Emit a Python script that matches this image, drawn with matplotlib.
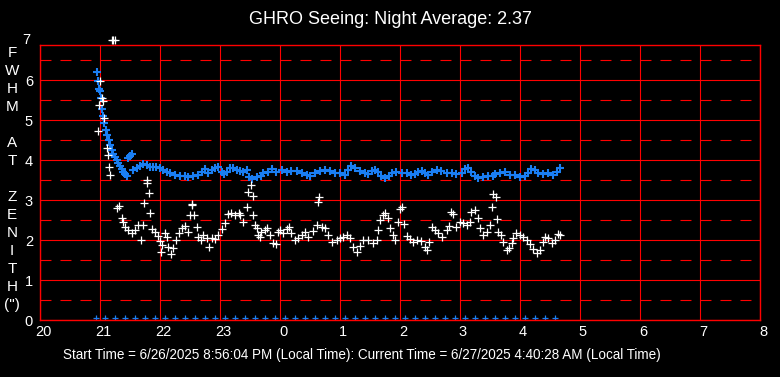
import numpy as np
import matplotlib
matplotlib.use('Agg')
import matplotlib.pyplot as plt
from matplotlib.transforms import ScaledTranslation

plt.rcParams['font.family'] = ['Liberation Sans', 'DejaVu Sans']
plt.rcParams['lines.scale_dashes'] = False

# seeing (white) - time in hours since midnight of start day, value in arcsec
seeing_t = [20.96, 20.99, 21.00, 21.04, 21.055, 21.07, 21.11, 21.13, 21.155, 21.17,
            21.20, 21.22, 21.25, 21.29, 21.32, 21.36, 21.38, 21.42, 21.47, 21.53,
            21.58, 21.64, 21.68, 21.72, 21.74, 21.78, 21.79, 21.82, 21.84, 21.86,
            21.92, 21.97, 22.00, 22.02, 22.03, 22.08, 22.12, 22.14, 22.18, 22.22,
            22.27, 22.31, 22.36, 22.42, 22.46, 22.50, 22.53, 22.54, 22.57, 22.61,
            22.64, 22.68, 22.72, 22.78, 22.82, 22.86, 22.92, 22.97, 23.03, 23.08,
            23.14, 23.19, 23.25, 23.31, 23.33, 23.39, 23.445, 23.47, 23.52, 23.545,
            23.555, 23.58, 23.61, 23.64, 23.67, 23.69, 23.75, 23.78, 23.83, 23.89,
            23.94, 23.97, 24.00, 24.055, 24.11, 24.155, 24.19, 24.25, 24.305, 24.36,
            24.42, 24.47, 24.545, 24.61, 24.64, 24.655, 24.695, 24.75, 24.805, 24.86,
            24.945, 25.00, 25.055, 25.11, 25.17, 25.22, 25.28, 25.33, 25.39, 25.47,
            25.555, 25.61, 25.64, 25.67, 25.71, 25.75, 25.795, 25.83, 25.88, 25.92,
            25.97, 26.00, 26.03, 26.07, 26.11, 26.17, 26.22, 26.28, 26.345, 26.42,
            26.445, 26.49, 26.53, 26.58, 26.64, 26.705, 26.78, 26.82, 26.85, 26.89,
            26.93, 27.00, 27.055, 27.11, 27.17, 27.19, 27.25, 27.295, 27.33, 27.39,
            27.445, 27.50, 27.53, 27.545, 27.60, 27.62, 27.64, 27.68, 27.72, 27.78,
            27.82, 27.86, 27.89, 27.94, 28.00, 28.055, 28.11, 28.17, 28.22, 28.29,
            28.33, 28.38, 28.42, 28.47, 28.53, 28.58, 28.64, 28.67]
seeing_v = [4.73, 5.37, 5.97, 5.54, 5.47, 5.04, 4.29, 4.13, 3.82, 3.62,
            7.0, 7.0, 7.0, 2.79, 2.86, 2.56, 2.46, 2.32, 2.25, 2.18,
            2.25, 2.38, 2.00, 2.38, 2.92, 3.50, 3.42, 3.17, 2.67, 2.27,
            2.21, 2.10, 1.98, 1.71, 1.88, 2.17, 2.08, 1.83, 1.65, 1.79,
            2.00, 2.18, 2.29, 2.35, 2.21, 2.63, 2.88, 2.90, 2.63, 2.33,
            2.08, 2.00, 2.13, 2.04, 1.83, 2.04, 2.02, 2.13, 2.27, 2.42,
            2.65, 2.68, 2.63, 2.68, 2.63, 2.46, 2.83, 3.21, 3.38, 3.10,
            2.63, 2.38, 2.29, 2.13, 2.08, 2.21, 2.25, 2.29, 2.13, 1.92,
            1.90, 2.21, 2.25, 2.18, 2.27, 2.32, 2.17, 2.00, 2.04, 2.13,
            2.21, 2.08, 2.23, 2.38, 2.96, 3.07, 2.32, 2.29, 2.13, 1.96,
            2.00, 2.04, 2.08, 2.13, 2.04, 1.83, 1.71, 1.85, 2.00, 2.00,
            1.93, 2.00, 2.25, 2.50, 2.63, 2.67, 2.54, 2.29, 2.13, 2.00,
            2.46, 2.77, 2.83, 2.40, 2.10, 2.02, 1.96, 2.00, 1.98, 1.83,
            1.75, 1.96, 2.33, 2.25, 2.17, 2.08, 2.25, 2.35, 2.71, 2.65,
            2.32, 2.46, 2.42, 2.38, 2.46, 2.71, 2.75, 2.54, 2.29, 2.13,
            2.21, 2.38, 2.83, 3.15, 3.07, 2.52, 2.21, 2.13, 1.96, 1.75,
            1.79, 1.92, 2.04, 2.17, 2.13, 2.08, 2.00, 1.90, 1.77, 1.67,
            1.75, 1.96, 2.08, 2.04, 1.92, 2.00, 2.15, 2.13]

# fwhm (blue)
fwhm_t = [20.955, 20.97, 20.99, 21.005, 21.02, 21.04, 21.055, 21.07, 21.10, 21.12,
          21.145, 21.17, 21.195, 21.22, 21.25, 21.28, 21.305, 21.33, 21.36, 21.39,
          21.42, 21.445, 21.47, 21.50, 21.54, 21.555, 21.61, 21.67, 21.72, 21.78,
          21.83, 21.89, 21.94, 22.00, 22.055, 22.11, 22.17, 22.25, 22.33, 22.42,
          22.47, 22.555, 22.64, 22.695, 22.75, 22.80, 22.86, 22.92, 22.97, 23.03,
          23.07, 23.11, 23.17, 23.22, 23.28, 23.33, 23.39, 23.445, 23.49, 23.53,
          23.61, 23.69, 23.72, 23.80, 23.86, 23.94, 24.03, 24.11, 24.19, 24.28,
          24.36, 24.445, 24.50, 24.58, 24.67, 24.75, 24.83, 24.92, 25.00, 25.08,
          25.14, 25.19, 25.25, 25.33, 25.42, 25.47, 25.53, 25.58, 25.64, 25.69,
          25.75, 25.81, 25.86, 25.94, 26.03, 26.11, 26.19, 26.25, 26.30, 26.36,
          26.42, 26.47, 26.53, 26.61, 26.69, 26.78, 26.86, 26.94, 27.03, 27.08,
          27.14, 27.19, 27.25, 27.30, 27.39, 27.47, 27.55, 27.58, 27.67, 27.75,
          27.83, 27.92, 28.00, 28.08, 28.14, 28.19, 28.25, 28.30, 28.39, 28.47,
          28.55, 28.61, 28.67]
fwhm_v = [6.19, 5.97, 5.77, 5.72, 5.54, 5.27, 5.10, 4.92, 4.75, 4.62,
          4.50, 4.38, 4.25, 4.15, 4.08, 4.00, 3.93, 3.85, 3.77, 3.71,
          3.65, 3.61, 4.04, 4.10, 4.15, 3.75, 3.79, 3.85, 3.89, 3.88,
          3.83, 3.82, 3.82, 3.79, 3.75, 3.71, 3.68, 3.63, 3.60, 3.60,
          3.57, 3.60, 3.63, 3.71, 3.77, 3.68, 3.75, 3.81, 3.82, 3.71,
          3.65, 3.71, 3.81, 3.79, 3.75, 3.73, 3.71, 3.75, 3.58, 3.52,
          3.58, 3.60, 3.67, 3.71, 3.77, 3.71, 3.75, 3.69, 3.72, 3.73,
          3.67, 3.63, 3.60, 3.67, 3.72, 3.75, 3.73, 3.68, 3.67, 3.63,
          3.75, 3.85, 3.79, 3.73, 3.67, 3.65, 3.73, 3.76, 3.71, 3.60,
          3.54, 3.60, 3.67, 3.71, 3.68, 3.68, 3.63, 3.65, 3.71, 3.73,
          3.68, 3.63, 3.71, 3.75, 3.72, 3.68, 3.67, 3.65, 3.67, 3.77,
          3.81, 3.71, 3.60, 3.54, 3.57, 3.60, 3.60, 3.65, 3.67, 3.71,
          3.63, 3.63, 3.58, 3.60, 3.68, 3.77, 3.75, 3.67, 3.65, 3.67,
          3.63, 3.71, 3.79]

# sample markers along the bottom (local clock time)
sample_times = ['20:56', '21:05', '21:15', '21:25', '21:35', '21:45', '21:55',
                '22:05', '22:15', '22:25', '22:35', '22:45', '22:55',
                '23:05', '23:15', '23:25', '23:35', '23:45', '23:55',
                '0:05', '0:15', '0:25', '0:35', '0:45', '0:55',
                '1:05', '1:15', '1:25', '1:35', '1:45', '1:55',
                '2:05', '2:15', '2:25', '2:35', '2:45', '2:55',
                '3:05', '3:15', '3:25', '3:35', '3:45', '3:55',
                '4:05', '4:15', '4:25', '4:35']
sample_level = 0.06

hour_labels = ['20', '21', '22', '23', '0', '1', '2', '3', '4', '5', '6', '7', '8']


def to_hours(s):
    h, m = s.split(':')
    h = int(h) + int(m) / 60
    if h < 12:
        h += 24
    return h


sample_t = [to_hours(s) for s in sample_times]

W, H = 780, 377
fig = plt.figure(figsize=(W / 100, H / 100), dpi=100, facecolor='black')
ax = fig.add_axes([40 / W, 1 - 320 / H, 720 / W, 275 / H], facecolor='black')

red = '#ff0000'
blue = '#1a7ef2'

ax.set_xlim(20, 32)
ax.set_ylim(0, 6.875)
ax.set_xticks(np.arange(20, 33))
ax.set_xticklabels(hour_labels)
ax.set_yticks(np.arange(0, 7))
ax.set_yticks(np.arange(0.5, 7, 1), minor=True)
ax.tick_params(which='both', length=0, colors='white', labelsize=10.5)
ax.tick_params(axis='x', pad=3.5)
ax.tick_params(axis='y', pad=5)

# hour labels sit a little right of their gridline
shift = ScaledTranslation(3 / 100, 0, fig.dpi_scale_trans)
for lbl in ax.get_xticklabels():
    lbl.set_transform(lbl.get_transform() + shift)

ax.grid(which='major', color=red, lw=0.8, ls='-')
ax.grid(which='minor', axis='y', color=red, lw=0.8, ls=(0, (7.9, 6.5)))
ax.set_axisbelow(True)
for sp in ax.spines.values():
    sp.set_color(red)
    sp.set_linewidth(1.0)

ax.plot(fwhm_t, fwhm_v, ls='none', marker='+', ms=6, mew=1.5, color=blue, clip_on=False)
ax.plot(seeing_t, seeing_v, ls='none', marker='+', ms=6, mew=0.9, color='white', clip_on=False)
ax.plot(sample_t, [sample_level] * len(sample_t), ls='none', marker='+', ms=5, mew=0.9,
        color=blue)

# top label "7" sits above the frame
ax.text(-0.014, 7, '7', transform=ax.get_yaxis_transform(), ha='right', va='center',
        color='white', fontsize=10.5, clip_on=False)

fig.text(390 / W, 1 - 20 / H, 'GHRO Seeing: Night Average: 2.37', ha='center', va='center',
         color='white', fontsize=13)

letters = ['F', 'W', 'H', 'M', '', 'A', 'T', '', 'Z', 'E', 'N', 'I', 'T', 'H', '(")']
for i, ch in enumerate(letters):
    fig.text(12 / W, 1 - (53 + 18 * i) / H, ch, ha='center', va='center', color='white',
             fontsize=11)

fig.text(362 / W, 1 - 355 / H,
         'Start Time = 6/26/2025 8:56:04 PM (Local Time): Current Time = 6/27/2025 4:40:28 AM (Local Time)',
         ha='center', va='center', color='white', fontsize=9.75,
         family=['Liberation Sans Narrow', 'Liberation Sans'])

fig.savefig('out.png', dpi=100, facecolor='black')
